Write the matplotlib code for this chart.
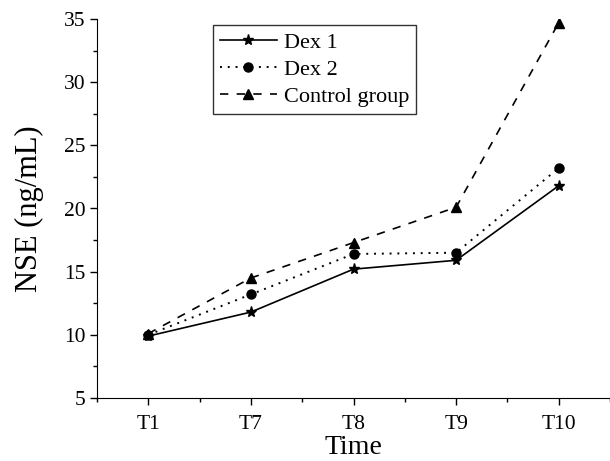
import matplotlib
matplotlib.use("Agg")
import matplotlib.pyplot as plt
from matplotlib.ticker import MultipleLocator

times = ["T1", "T7", "T8", "T9", "T10"]
dex1 = [9.9, 11.8, 15.2, 15.9, 21.8]
dex2 = [10.0, 13.2, 16.4, 16.5, 23.2]
control = [10.1, 14.5, 17.3, 20.1, 34.7]

plt.rcParams["font.family"] = ["Liberation Serif", "DejaVu Serif"]

fig = plt.figure(figsize=(6.10, 4.61), dpi=100)
ax = fig.add_axes([97 / 610, 1 - 398 / 461, 513 / 610, 379 / 461])

x = list(range(len(times)))
ax.plot(x, dex1, color="black", linestyle="-", linewidth=1.2, marker="*",
        markersize=8, label="Dex 1")
ax.plot(x, dex2, color="black", linestyle=(0, (1, 3)), linewidth=1.4, marker="o",
        markersize=6.5, label="Dex 2")
ax.plot(x, control, color="black", linestyle=(0, (5, 5)), linewidth=1.2, marker="^",
        markersize=7, label="Control group")

ax.set_xlim(-0.5, 4.5)
ax.set_ylim(5, 35)
ax.set_xticks(x)
ax.set_xticklabels(times)
ax.xaxis.set_minor_locator(MultipleLocator(0.5))
ax.yaxis.set_major_locator(MultipleLocator(5))
ax.yaxis.set_minor_locator(MultipleLocator(2.5))
ax.tick_params(which="major", direction="out", length=5, width=1, labelsize=15.5)
ax.tick_params(which="minor", direction="out", length=3, width=1)
ax.tick_params(axis="x", which="major", pad=7)

for side in ("top", "right"):
    ax.spines[side].set_visible(False)

# x 라벨은 그림 아래쪽 끝에 붙여 눈금 라벨과 겹치지 않게
xl = ax.set_xlabel("Time", fontsize=20)
xl.set_va("bottom")
ax.xaxis.set_label_coords(0.5, -(460 - 398) / 379)
ax.set_ylabel("NSE (ng/mL)", fontsize=22, labelpad=14)

leg = ax.legend(loc="upper left", bbox_to_anchor=(0.226, 0.983), fontsize=16,
                frameon=True, fancybox=False, edgecolor="black",
                handlelength=2.6, borderpad=0.3, labelspacing=0.3,
                handletextpad=0.3, borderaxespad=0)
leg.get_frame().set_linewidth(1.0)

fig.savefig("out.png", dpi=100)
